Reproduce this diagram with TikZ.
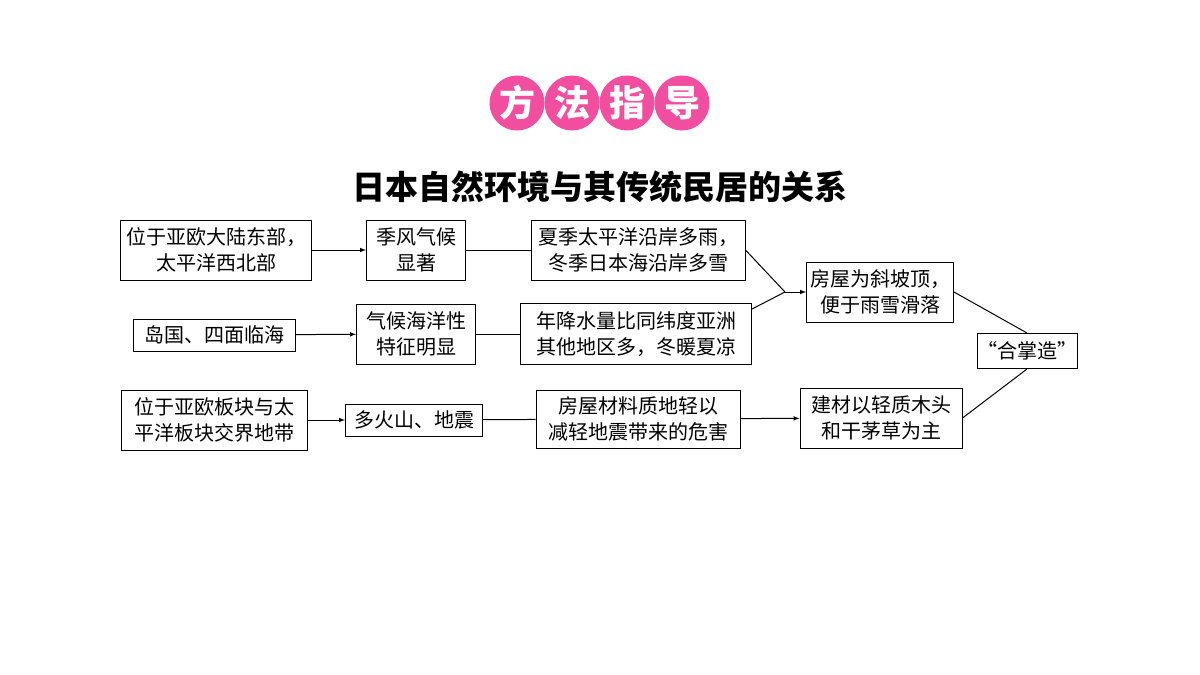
\documentclass[tikz,border=0pt]{standalone}
\usepackage{fontspec}
\setmainfont{Noto Sans CJK SC}
\usetikzlibrary{arrows}
\begin{document}
\begin{tikzpicture}[x=1pt,y=-1pt,line width=1pt]
% define box types
\tikzstyle{box}=[draw, rectangle, inner sep=0pt, font=\fontsize{20}{26}\selectfont, align=center]
\tikzstyle{badge}=[circle, fill=magenta!60!pink, minimum size=55pt, inner sep=0pt,
    text=white, font=\fontsize{36}{36}\selectfont\bfseries]
\tikzstyle{a}=[->,>=latex]
\useasboundingbox (0,0) rectangle (1200,675);
% heading
\node[badge] (b1) at (517,103) {方};
\node[badge] (b2) at (572,103) {法};
\node[badge] (b3) at (627,103) {指};
\node[badge] (b4) at (682,103) {导};
\node[font=\fontsize{33}{36}\selectfont\bfseries] (title) at (600,187) {日本自然环境与其传统民居的关系};
% first row
\node[box, minimum width=191, minimum height=60] (pos) at (216,250) {位于亚欧大陆东部，\\太平洋西北部};
\node[box, minimum width=99, minimum height=60] (monsoon) at (416,250) {季风气候\\显著};
\node[box, minimum width=214, minimum height=60] (rain) at (638,250) {夏季太平洋沿岸多雨，\\冬季日本海沿岸多雪};
% second row
\node[box, minimum width=162, minimum height=32] (island) at (214,335) {岛国、四面临海};
\node[box, minimum width=119, minimum height=60] (ocean) at (416,334) {气候海洋性\\特征明显};
\node[box, minimum width=231, minimum height=61] (precip) at (636,334) {年降水量比同纬度亚洲\\其他地区多，冬暖夏凉};
% third row
\node[box, minimum width=186, minimum height=60] (plate) at (214,420) {位于亚欧板块与太\\平洋板块交界地带};
\node[box, minimum width=137, minimum height=32] (quake) at (414,420) {多火山、地震};
\node[box, minimum width=204, minimum height=58] (light) at (638,419) {房屋材料质地轻以\\减轻地震带来的危害};
\node[box, minimum width=162, minimum height=60] (wood) at (881,418) {建材以轻质木头\\和干茅草为主};
% right side
\node[box, minimum width=147, minimum height=60] (roof) at (880,292) {房屋为斜坡顶，\\便于雨雪滑落};
\node[box, minimum width=97, minimum height=35] (gassho) at (1027,351) {“合掌造”};
\coordinate (join) at (785,292);
% connectors
\draw[a] (pos) -- (monsoon);
\draw (monsoon) -- (rain);
\draw[a] (island) -- (ocean);
\draw (ocean) -- (precip);
\draw[a] (plate) -- (quake);
\draw (quake) -- (light);
\draw[a] (light) -- (wood);
\draw (rain.east) -- (join);
\draw (precip.north east) ++(0,6) -- (join);
\draw[a] (join) -- (roof);
\draw (roof.east) -- (gassho.north);
\draw (wood.east) -- (gassho.south);
\end{tikzpicture}
\end{document}
